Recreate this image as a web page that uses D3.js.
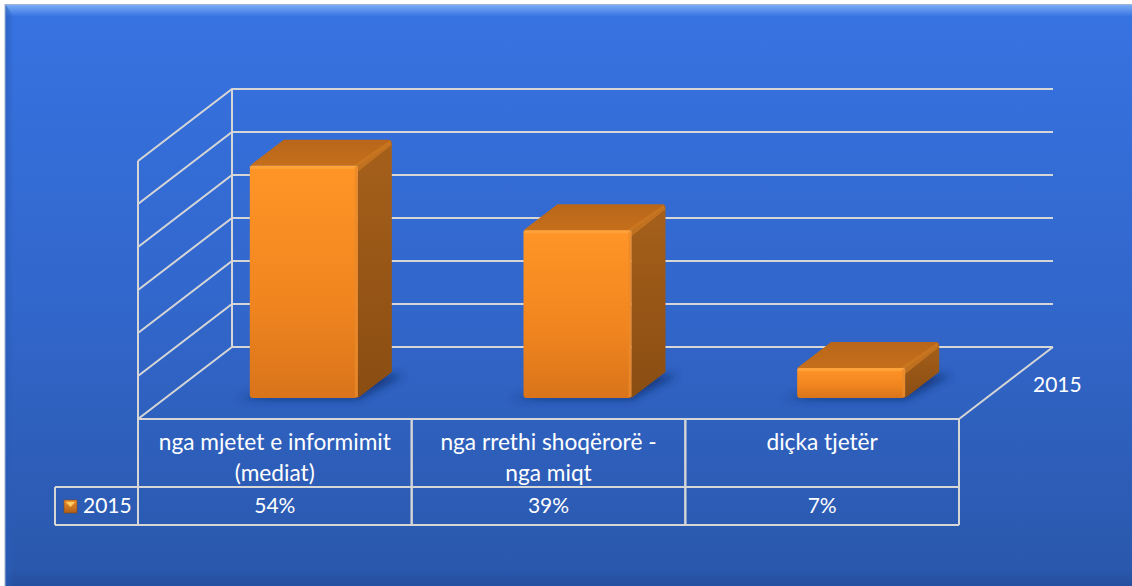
<!DOCTYPE html>
<html><head><meta charset="utf-8">
<script src="https://cdn.jsdelivr.net/npm/d3@7/dist/d3.min.js"></script>
<style>html,body{margin:0;padding:0;background:#fff;overflow:hidden}svg{display:block}text{font-family:Lato,"Open Sans",sans-serif;fill:#fff}</style>
</head><body><svg id="c" width="1132" height="586"></svg>
<script>
const categories=[["nga mjetet e informimit","(mediat)"],["nga rrethi shoqërorë -","nga miqt"],["diçka tjetër"]];
const values=[54,39,7];
const valueLabels=["54%","39%","7%"];
const seriesName="2015";
const gridTicks=[0,10,20,30,40,50,60];

const svg=d3.select("#c"),defs=svg.append("defs");
function grad(id,stops,x2=0,y2=1){
  const g=defs.append("linearGradient").attr("id",id).attr("x1",0).attr("y1",0).attr("x2",x2).attr("y2",y2);
  stops.forEach(s=>g.append("stop").attr("offset",s[0]).attr("stop-color",s[1]));
}
grad("bg",[[0,"#3773e2"],[0.5,"#3267cc"],[0.97,"#2a58ad"],[1,"#264f9e"]]);
grad("top",[[0,"#7fb0f5"],[1,"#3a76e4"]]);
grad("left",[[0,"#2a5db8"],[1,"#2a5db800"]],1,0);
grad("front",[[0,"#ff9527"],[0.6,"#f0851f"],[1,"#d9741b"]]);
grad("side",[[0,"#a5601b"],[1,"#8a4d12"]]);
grad("topFace",[[0,"#b9661a"],[1,"#c56f1b"]]);
grad("key",[[0,"#f09030"],[1,"#b05f18"]]);
defs.append("filter").attr("id","blur").attr("x","-30%").attr("y","-100%").attr("width","160%").attr("height","300%")
  .append("feGaussianBlur").attr("stdDeviation",4);

// panel
svg.append("rect").attr("x",5).attr("y",4).attr("width",1127).attr("height",582).attr("fill","url(#bg)");
svg.append("rect").attr("x",5).attr("y",4).attr("width",1127).attr("height",12).attr("fill","url(#top)");
svg.append("path").attr("d",d3.line()([[5,4],[14,16],[14,586],[5,586]])).attr("fill","url(#left)").attr("opacity",.7);
svg.append("path").attr("d","M5 4.5H1132M5 4V586").attr("stroke","#9fb4cf").attr("fill","none");

// scales
const x=d3.scaleBand().domain(d3.range(categories.length)).range([138,959]).paddingInner(0).paddingOuter(0);
const y=d3.scaleLinear().domain([0,60]).range([419,161]);
const dx=94,dy=72;            // floor depth projection
const barW=108,bdx=34,bdy=26; // box size
const frontBase=21;           // box front edge rise from floor front edge
const barShift=29;            // box offset inside its band
const line="#d6d6d6";
const G=svg.append("g").attr("fill","none").attr("stroke",line).attr("stroke-width",2);

// gridlines
gridTicks.forEach(t=>{
  const yy=y(t);
  G.append("path").attr("d",d3.line()([[x.range()[0],yy],[x.range()[0]+dx,yy-dy],[1053,yy-dy]]));
});
G.append("path").attr("d",d3.line()([[138,y(60)],[138,y(0)]]));
G.append("path").attr("d",d3.line()([[138+dx,y(60)-dy],[138+dx,y(0)-dy]]));
G.append("path").attr("d",d3.line()([[1053,y(0)-dy],[959,y(0)]]));

// bars
const h=v=>y(0)-y(v);
const B=svg.append("g").selectAll("g").data(values).join("g").each(function(v,i){
  const g=d3.select(this);
  const l=x(i)+(x.bandwidth()-barW)/2+barShift, r=l+barW, b=y(0)-frontBase, t=b-h(v);
  g.append("path").attr("d",d3.line()([[l-14,b+1],[r,b+1],[r+bdx+12,b-bdy+3],[r+bdx-30,b-bdy+3]]))
    .attr("fill","#0d2a66").attr("opacity",.75).attr("filter","url(#blur)");
  g.append("path").attr("d",d3.line()([[r,t],[r+bdx-2,t-bdy+1],[r+bdx,t-bdy+3],[r+bdx,b-bdy],[r,b]])).attr("fill","url(#side)");
  g.append("path").attr("d",d3.line()([[l,t],[l+bdx,t-bdy],[r+bdx-2,t-bdy],[r+bdx,t-bdy+2],[r,t]])).attr("fill","url(#topFace)");
  g.append("path").attr("d",d3.line()([[r-6,t+1],[r+bdx-2,t-bdy+1],[r+bdx,t-bdy+5],[r,t+6]])).attr("fill","#cf7a22").attr("opacity",.7);
  g.append("rect").attr("x",l).attr("y",t).attr("width",barW).attr("height",h(v)).attr("rx",3).attr("fill","url(#front)");
  g.append("rect").attr("x",l).attr("y",t).attr("width",barW).attr("height",3).attr("rx",1.5).attr("fill","#ffa63f").attr("opacity",.8);
  g.append("rect").attr("x",r-3).attr("y",t+1).attr("width",3).attr("height",h(v)-2).attr("fill","#e88a2a").attr("opacity",.8);
});

// table
const rowY=[419,487,525];
const T=svg.append("g").attr("fill","none").attr("stroke",line).attr("stroke-width",2);
rowY.forEach((ry,k)=>T.append("path").attr("d",`M${k===0?138:55} ${ry}H959`));
x.domain().concat([3]).forEach(i=>{
  const xx=i<3?x(i):x.range()[1];
  T.append("path").attr("d",`M${xx} 419V525`).attr("stroke-width",i===1||i===2?2.4:2);
});
T.append("path").attr("d","M55 487V525");

const fsCat=22.7,fsNum=21;
categories.forEach((lines,i)=>lines.forEach((s,k)=>{
  svg.append("text").attr("x",x(i)+x.bandwidth()/2).attr("y",450+k*31).attr("text-anchor","middle").attr("font-size",fsCat).text(s);
}));
valueLabels.forEach((s,i)=>svg.append("text").attr("x",x(i)+x.bandwidth()/2).attr("y",513).attr("text-anchor","middle").attr("font-size",fsNum).text(s));
svg.append("text").attr("x",83).attr("y",513).attr("font-size",fsNum).text(seriesName);
svg.append("text").attr("x",1033).attr("y",392).attr("font-size",fsNum).text(seriesName);
// legend key
svg.append("rect").attr("x",64).attr("y",500).attr("width",13).attr("height",13).attr("fill","url(#key)").attr("stroke","#7a4a20").attr("stroke-width",.6);
svg.append("path").attr("d","M66 502H75L70.5 507Z").attr("fill","#ffd060");
</script></body></html>
